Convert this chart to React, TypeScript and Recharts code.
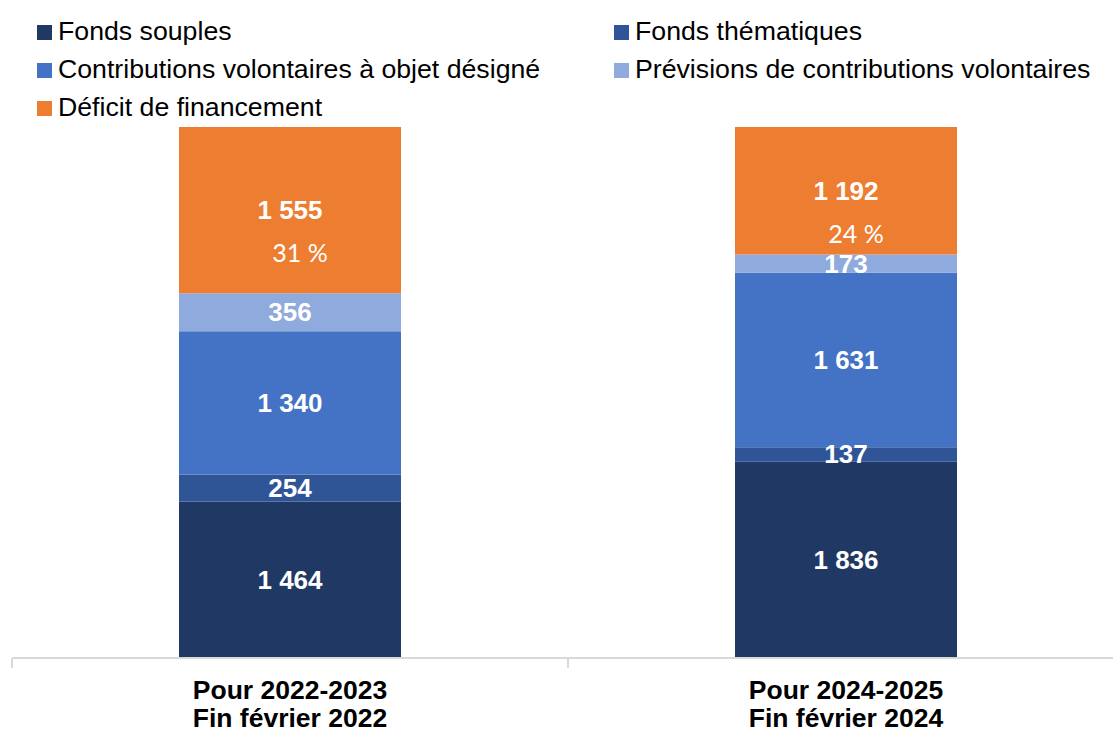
import React from 'react';
import { BarChart, Bar, XAxis, YAxis, LabelList, Legend } from 'recharts';

const periods = ['Pour 2022-2023', 'Pour 2024-2025'];
const snapshots = ['Fin février 2022', 'Fin février 2024'];
const fondsSouples = [1464, 1836];
const fondsThematiques = [254, 137];
const contributionsDesignees = [1340, 1631];
const previsions = [356, 173];
const deficit = [1555, 1192];
const deficitShare = [31, 24];

const seriesNames = [
  'Fonds souples',
  'Fonds thématiques',
  'Contributions volontaires à objet désigné',
  'Prévisions de contributions volontaires',
  'Déficit de financement',
];
const seriesKeys = ['souples', 'thematiques', 'designees', 'previsions', 'deficit'];
const seriesColors = ['#203864', '#2f5597', '#4472c4', '#8faadc', '#ed7d31'];

const data = periods.map((p, i) => ({
  period: p,
  souples: fondsSouples[i],
  thematiques: fondsThematiques[i],
  designees: contributionsDesignees[i],
  previsions: previsions[i],
  deficit: deficit[i],
  share: deficitShare[i],
}));

const ARIAL = '"Liberation Sans", Arial, sans-serif';

const fmt = (v: any) => {
  const n = Number(v);
  if (n >= 1000) return `${Math.floor(n / 1000)} ${String(n % 1000).padStart(3, '0')}`;
  return String(n);
};

const CenterLabel = (props: any) => {
  const { x, y, width, height, value } = props;
  return (
    <text
      x={x + width / 2}
      y={y + height / 2}
      textAnchor="middle"
      dominantBaseline="central"
      fill="#ffffff"
      fontFamily={ARIAL}
      fontWeight="bold"
      fontSize={26}
    >
      {fmt(value)}
    </text>
  );
};

const DeficitLabel = (props: any) => {
  const { x, y, width, height, value, index } = props;
  const cx = x + width / 2;
  const cy = y + height / 2;
  return (
    <g>
      <text
        x={cx}
        y={cy}
        textAnchor="middle"
        dominantBaseline="central"
        fill="#ffffff"
        fontFamily={ARIAL}
        fontWeight="bold"
        fontSize={26}
      >
        {fmt(value)}
      </text>
      <text
        x={cx + 10}
        y={cy + 42}
        textAnchor="middle"
        dominantBaseline="central"
        fill="#ffffff"
        fontFamily="Lato, 'Open Sans', sans-serif"
        fontSize={25}
      >
        {`${deficitShare[index]} %`}
      </text>
    </g>
  );
};

const AxisTick = (props: any) => {
  const { x, y, payload, index, visibleTicksCount } = props;
  const half = payload.offset || 0;
  const last = index === (visibleTicksCount ?? periods.length) - 1;
  return (
    <g>
      <line x1={x - half} x2={x - half} y1={y} y2={y + 10} stroke="#d9d9d9" strokeWidth={2} />
      {last && <line x1={x + half} x2={x + half} y1={y} y2={y + 10} stroke="#d9d9d9" strokeWidth={2} />}
      <text
        x={x}
        y={y + 41}
        textAnchor="middle"
        fill="#000000"
        fontFamily={ARIAL}
        fontWeight="bold"
        fontSize={26.5}
      >
        {payload.value}
      </text>
      <text
        x={x}
        y={y + 69}
        textAnchor="middle"
        fill="#000000"
        fontFamily={ARIAL}
        fontWeight="bold"
        fontSize={26.5}
      >
        {snapshots[index]}
      </text>
    </g>
  );
};

const legendCols = [37, 614];
const legendRows = [31, 69, 107];

const LegendContent = () => (
  <div style={{ position: 'relative', width: 1113, height: 0 }}>
    {seriesNames.map((name, i) => (
      <div
        key={name}
        style={{
          position: 'absolute',
          left: legendCols[i % 2],
          top: legendRows[Math.floor(i / 2)] - 16,
          height: 32,
          display: 'flex',
          alignItems: 'center',
          whiteSpace: 'nowrap',
          fontFamily: ARIAL,
          fontSize: 26.7,
          color: '#000000',
        }}
      >
        <span
          style={{
            display: 'inline-block',
            width: 15,
            height: 15,
            background: seriesColors[i],
            marginRight: 6,
            marginTop: 3,
          }}
        />
        <span>{name}</span>
      </div>
    ))}
  </div>
);

export default function App() {
  return (
    <div style={{ position: 'absolute', left: 0, top: 0, width: 1113, height: 731, background: '#ffffff' }}>
      <BarChart
        width={1113}
        height={731}
        data={data}
        margin={{ top: 127, right: -11, left: 12, bottom: 0 }}
        barCategoryGap={0}
      >
        <XAxis
          dataKey="period"
          height={73}
          tickLine={false}
          tickSize={0}
          tickMargin={0}
          axisLine={{ stroke: '#d9d9d9', strokeWidth: 2 }}
          tick={<AxisTick />}
          interval={0}
        />
        <YAxis hide domain={[0, 'dataMax']} />
        <Legend
          verticalAlign="top"
          content={<LegendContent />}
          wrapperStyle={{ position: 'absolute', top: 0, left: 0, width: 1113, height: 0 }}
        />
        {seriesKeys.map((k, i) => (
          <Bar
            key={k}
            dataKey={k}
            name={seriesNames[i]}
            stackId="a"
            fill={seriesColors[i]}
            barSize={222}
            isAnimationActive={false}
          >
            <LabelList dataKey={k} content={k === 'deficit' ? <DeficitLabel /> : <CenterLabel />} />
          </Bar>
        ))}
      </BarChart>
    </div>
  );
}
